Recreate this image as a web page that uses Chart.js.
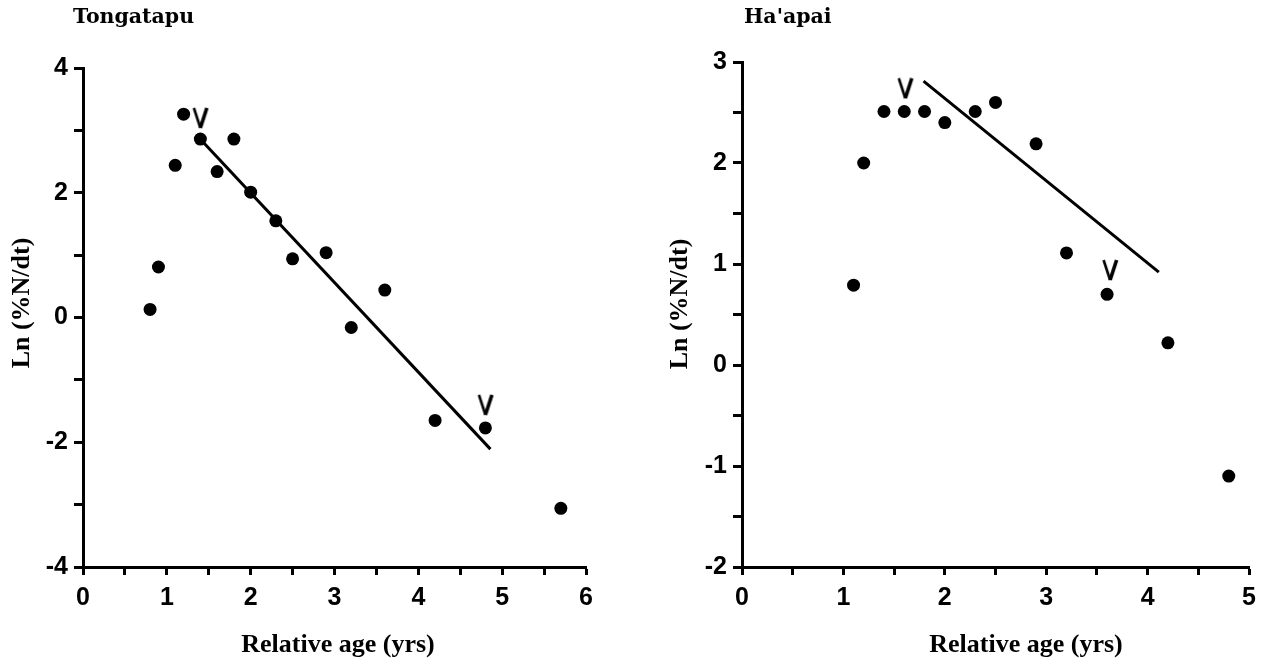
<!DOCTYPE html>
<html>
<head>
<meta charset="utf-8">
<script src="https://cdn.jsdelivr.net/npm/chart.js@4"></script>
<style>
  html, body { margin: 0; padding: 0; background: #fff; }
  #wrap { width: 1264px; height: 664px; display: flex; }
  .box { width: 632px; height: 664px; }
</style>
</head>
<body>
<div id="wrap">
  <div class="box"><canvas id="tonga" width="632" height="664"></canvas></div>
  <div class="box"><canvas id="haapai" width="632" height="664"></canvas></div>
</div>
<script>
//----------data

// Tongatapu
const tongaAge = [0.8, 0.9, 1.1, 1.2, 1.4, 1.6, 1.8, 2.0, 2.3, 2.5, 2.9, 3.2, 3.6, 4.2, 4.8, 5.7];
const tongaLn  = [0.13, 0.81, 2.44, 3.26, 2.86, 2.34, 2.86, 2.01, 1.55, 0.94, 1.04, -0.16, 0.44, -1.65, -1.77, -3.06];
const tongaFitAge = [1.42, 4.86];
const tongaFitLn  = [2.83, -2.11];
const tongaArrowAge = [1.4, 4.8];   // the "V" marks
const tongaArrowLn  = [3.2, -1.4];

// Ha'apai
const haapaiAge = [1.1, 1.2, 1.4, 1.6, 1.8, 2.0, 2.3, 2.5, 2.9, 3.2, 3.6, 4.2, 4.8];
const haapaiLn  = [0.79, 2.0, 2.51, 2.51, 2.51, 2.40, 2.51, 2.60, 2.19, 1.11, 0.70, 0.22, -1.10];
const haapaiFitAge = [1.79, 4.11];
const haapaiFitLn  = [2.81, 0.92];
const haapaiArrowAge = [1.61, 3.63];
const haapaiArrowLn  = [2.74, 0.94];

const xTitle = 'Relative age (yrs)';
const yTitle = 'Ln (%N/dt)';

//----------helpers

function pairs(xs, ys) {
    return xs.map((x, i) => ({ x: x, y: ys[i] }));
}

// small "V" arrow used as a point style
function makeArrow() {
    const c = document.createElement('canvas');
    c.width = 18; c.height = 22;
    const g = c.getContext('2d');
    g.strokeStyle = '#000';
    g.lineWidth = 2.6;
    g.beginPath(); g.moveTo(2.5, 1); g.lineTo(9, 21); g.stroke();
    g.lineWidth = 3.6;
    g.beginPath(); g.moveTo(15.5, 1); g.lineTo(9, 21); g.stroke();
    return c;
}
const arrowImg = makeArrow();

// draws panel title and axis titles
const textPlugin = {
    id: 'panelText',
    afterDraw(chart, args, o) {
        const ctx = chart.ctx;
        ctx.save();
        ctx.fillStyle = '#000';
        ctx.font = 'bold 20.5px "DejaVu Serif"';
        ctx.textAlign = 'left';
        ctx.textBaseline = 'alphabetic';
        ctx.fillText(o.title, o.titleX, 23);

        ctx.font = 'bold 26px "Liberation Serif"';
        ctx.textAlign = 'center';
        ctx.fillText(xTitle, o.xTitleX, 652);

        ctx.translate(o.yTitleX, o.yTitleY);
        ctx.rotate(-Math.PI / 2);
        ctx.textBaseline = 'middle';
        ctx.fillText(yTitle, 0, 0);
        ctx.restore();
    }
};

const tickFont = { family: 'Liberation Sans', weight: 'bold', size: 25 };

function makeChart(id, cfg) {
    const ctx = document.getElementById(id).getContext('2d');
    return new Chart(ctx, {
        type: 'scatter',
        data: {
            datasets: [{
                data: pairs(cfg.age, cfg.ln),
                pointRadius: 6.5,
                pointBackgroundColor: '#000',
                pointBorderWidth: 0
            }, {
                data: pairs(cfg.fitAge, cfg.fitLn),
                showLine: true,
                borderColor: '#000',
                borderWidth: 3,
                pointRadius: 0
            }, {
                data: pairs(cfg.arrowAge, cfg.arrowLn),
                pointStyle: arrowImg
            }]
        },
        options: {
            responsive: false,
            animation: false,
            devicePixelRatio: 1,
            layout: { padding: { top: cfg.top, right: cfg.right, left: 0, bottom: 0 } },
            plugins: {
                legend: { display: false },
                tooltip: { enabled: false },
                panelText: cfg.text
            },
            scales: {
                x: {
                    type: 'linear',
                    min: 0, max: cfg.xMax,
                    afterFit: (s) => { s.height = 97; },
                    border: { color: '#000', width: 3 },
                    grid: { drawOnChartArea: false, tickLength: 8, tickWidth: 3, tickColor: '#000' },
                    ticks: {
                        stepSize: 0.5, autoSkip: false, maxRotation: 0, padding: 8,
                        color: '#000', font: tickFont,
                        callback: (v) => Number.isInteger(v) ? v : ''
                    }
                },
                y: {
                    min: cfg.yMin, max: cfg.yMax,
                    afterFit: (s) => { s.width = cfg.left; },
                    border: { color: '#000', width: 3 },
                    grid: { drawOnChartArea: false, tickLength: 9, tickWidth: 3, tickColor: '#000' },
                    ticks: {
                        stepSize: cfg.yStep, autoSkip: false, padding: 6,
                        color: '#000', font: tickFont,
                        callback: (v) => (v % cfg.yLabelEvery === 0) ? v : ''
                    }
                }
            }
        },
        plugins: [textPlugin]
    });
}

makeChart('tonga', {
    age: tongaAge, ln: tongaLn,
    fitAge: tongaFitAge, fitLn: tongaFitLn,
    arrowAge: tongaArrowAge, arrowLn: tongaArrowLn,
    xMax: 6, yMin: -4, yMax: 4, yStep: 1, yLabelEvery: 2,
    top: 68, right: 46, left: 83,
    text: { title: 'Tongatapu', titleX: 73, xTitleX: 338, yTitleX: 22, yTitleY: 303 }
});

makeChart('haapai', {
    age: haapaiAge, ln: haapaiLn,
    fitAge: haapaiFitAge, fitLn: haapaiFitLn,
    arrowAge: haapaiArrowAge, arrowLn: haapaiArrowLn,
    xMax: 5, yMin: -2, yMax: 3, yStep: 0.5, yLabelEvery: 1,
    top: 62, right: 14, left: 110,
    text: { title: "Ha'apai", titleX: 112, xTitleX: 394, yTitleX: 48, yTitleY: 304 }
});
</script>
</body>
</html>
